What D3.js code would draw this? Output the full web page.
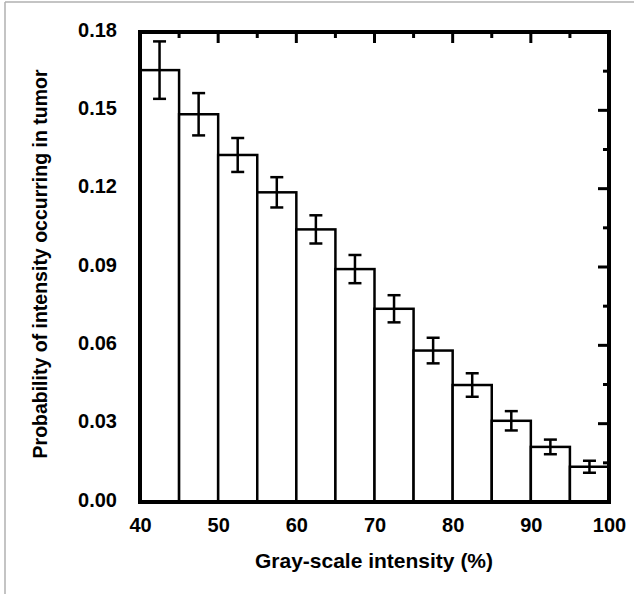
<!DOCTYPE html>
<html>
<head>
<meta charset="utf-8">
<script src="https://cdn.jsdelivr.net/npm/d3@7"></script>
<style>
    body { margin: 0; background: #fff; }
    text { font-family: "Liberation Sans", Arial, Helvetica, sans-serif; font-weight: bold; fill: #000; }
</style>
</head>
<body>
<div id="chart"></div>
<script>
// data
var binStart = [40, 45, 50, 55, 60, 65, 70, 75, 80, 85, 90, 95];
var binWidth = 5;
var prob = [0.1654, 0.1485, 0.1329, 0.1186, 0.1044, 0.0892, 0.0740, 0.0580, 0.0448, 0.0311, 0.0211, 0.0135];
var probErr = [0.0110, 0.0081, 0.0065, 0.0058, 0.0054, 0.0054, 0.0052, 0.0049, 0.0045, 0.0037, 0.0028, 0.0023];
var xTicks = [40, 50, 60, 70, 80, 90, 100];
var yTicks = [0, 0.03, 0.06, 0.09, 0.12, 0.15, 0.18];

var svgWidth = 634;
var svgHeight = 594;
var margin = { top: 32, right: 25, bottom: 92, left: 140 };
var chart_width = svgWidth - margin.left - margin.right;
var chart_height = svgHeight - margin.top - margin.bottom;

var svg = d3.select("#chart")
    .append("svg")
    .attr("width", svgWidth)
    .attr("height", svgHeight);

// light frame round the figure
svg.append("line").attr("x1", 5).attr("x2", 5).attr("y1", 2).attr("y2", svgHeight)
    .attr("stroke", "#b0b0b0").attr("stroke-width", 1.5);
svg.append("line").attr("x1", 5).attr("x2", svgWidth).attr("y1", 2).attr("y2", 2)
    .attr("stroke", "#b0b0b0").attr("stroke-width", 1.5);

var chartGroup = svg.append("g")
    .attr("transform", `translate(${margin.left}, ${margin.top})`);

var xScale = d3.scaleLinear().domain([40, 100]).range([0, chart_width]);
var yScale = d3.scaleLinear().domain([0, 0.18]).range([chart_height, 0]);

var rows = binStart.map(function(b, i) {
    return { x0: b, x1: b + binWidth, p: prob[i], e: probErr[i] };
});

// bars
chartGroup.append("g")
    .selectAll("rect")
    .data(rows)
    .enter()
    .append("rect")
    .attr("x", d => xScale(d.x0))
    .attr("y", d => yScale(d.p))
    .attr("width", d => xScale(d.x1) - xScale(d.x0))
    .attr("height", d => chart_height - yScale(d.p))
    .attr("fill", "#fff")
    .attr("stroke", "#000")
    .attr("stroke-width", 2.5);

// error bars
var capHalf = 6.5;
var errGroup = chartGroup.append("g")
    .attr("stroke", "#000")
    .attr("stroke-width", 2.5);

rows.forEach(function(d) {
    var cx = xScale(d.x0 + binWidth / 2);
    var yt = yScale(d.p + d.e);
    var yb = yScale(d.p - d.e);
    errGroup.append("line").attr("x1", cx).attr("x2", cx).attr("y1", yt).attr("y2", yb);
    errGroup.append("line").attr("x1", cx - capHalf).attr("x2", cx + capHalf).attr("y1", yt).attr("y2", yt);
    errGroup.append("line").attr("x1", cx - capHalf).attr("x2", cx + capHalf).attr("y1", yb).attr("y2", yb);
});

// inward ticks on top and right
var tickGroup = chartGroup.append("g")
    .attr("stroke", "#000")
    .attr("stroke-width", 3);

d3.range(40, 100.1, 5).forEach(function(v) {
    var len = (v % 10 === 0) ? 11 : 6;
    tickGroup.append("line")
        .attr("x1", xScale(v)).attr("x2", xScale(v))
        .attr("y1", 0).attr("y2", len);
});
d3.range(0, 0.1801, 0.015).forEach(function(v, i) {
    var len = (i % 2 === 0) ? 11 : 6;
    tickGroup.append("line")
        .attr("x1", chart_width).attr("x2", chart_width - len)
        .attr("y1", yScale(v)).attr("y2", yScale(v));
});

// frame of the plot
chartGroup.append("rect")
    .attr("x", 0).attr("y", 0)
    .attr("width", chart_width).attr("height", chart_height)
    .attr("fill", "none")
    .attr("stroke", "#000")
    .attr("stroke-width", 4);

// axes (labels only)
var bottomAxis = d3.axisBottom(xScale).tickValues(xTicks).tickSize(0).tickPadding(16).tickFormat(d3.format("d"));
var leftAxis = d3.axisLeft(yScale).tickValues(yTicks).tickSize(0).tickPadding(23).tickFormat(d3.format(".2f"));

var xg = chartGroup.append("g")
    .attr("transform", `translate(0, ${chart_height})`)
    .call(bottomAxis);
var yg = chartGroup.append("g").call(leftAxis);

[xg, yg].forEach(function(g) {
    g.select(".domain").remove();
    g.selectAll("text")
        .attr("fill", "#000")
        .style("font-family", "'Liberation Sans', Arial, sans-serif")
        .style("font-weight", "bold")
        .style("font-size", "20px");
});
yg.selectAll("text").attr("dy", "0.2em");

// axis titles
svg.append("text")
    .attr("x", 374)
    .attr("y", 568)
    .attr("text-anchor", "middle")
    .style("font-size", "21px")
    .text("Gray-scale intensity (%)");

svg.append("text")
    .attr("transform", "translate(46.5, 264) rotate(-90)")
    .attr("text-anchor", "middle")
    .style("font-size", "19.5px")
    .text("Probability of intensity occurring in tumor");
</script>
</body>
</html>
